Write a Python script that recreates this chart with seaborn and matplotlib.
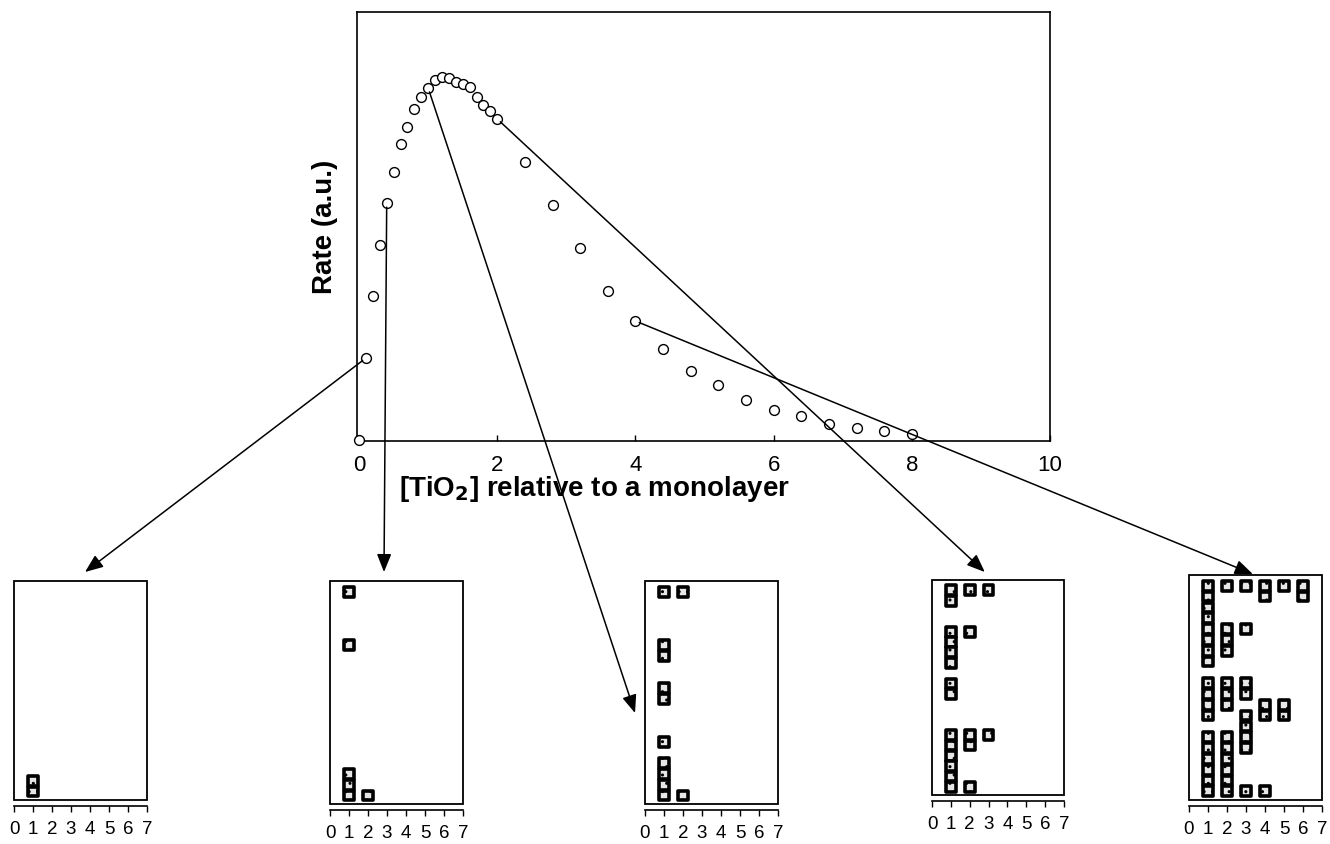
import numpy as np
import pandas as pd
import matplotlib
matplotlib.use("Agg")
import matplotlib.pyplot as plt
import seaborn as sns
from matplotlib.patches import ConnectionPatch, Rectangle

# ---------------- data ----------------
tio2 = [0.0, 0.1, 0.2, 0.3, 0.4, 0.5, 0.6, 0.7, 0.8, 0.9, 1.0, 1.1, 1.2, 1.3, 1.4,
        1.5, 1.6, 1.7, 1.8, 1.9, 2.0, 2.4, 2.8, 3.2, 3.6, 4.0, 4.4, 4.8, 5.2, 5.6,
        6.0, 6.4, 6.8, 7.2, 7.6, 8.0]
rate = [0.00, 0.82, 1.44, 1.95, 2.37, 2.68, 2.96, 3.13, 3.31, 3.43, 3.52, 3.60, 3.63,
        3.62, 3.58, 3.56, 3.53, 3.43, 3.35, 3.29, 3.21, 2.78, 2.35, 1.92, 1.49, 1.19,
        0.91, 0.69, 0.55, 0.40, 0.30, 0.24, 0.16, 0.12, 0.09, 0.06]
main_xticks = [0, 2, 4, 6, 8, 10]
arrow_from = [0.1, 0.4, 1.0, 2.0, 4.0]

# occupied rows (layer index) in each column of the small panels
panel1 = [[], [1, 0]]
panel2 = [[], [19, 14, 2, 1, 0], [0]]
panel3 = [[], [19, 14, 13, 10, 9, 5, 3, 2, 1, 0], [19, 0]]
panel4 = [[], [19, 18, 15, 14, 13, 12, 10, 9, 5, 4, 3, 2, 1, 0], [19, 15, 5, 4, 0], [19, 5]]
panel5 = [[], [19, 18, 17, 16, 15, 14, 13, 12, 10, 9, 8, 7, 5, 4, 3, 2, 1, 0],
          [19, 15, 14, 13, 10, 9, 8, 5, 4, 3, 2, 1, 0],
          [19, 15, 10, 9, 7, 6, 5, 4, 0],
          [19, 18, 8, 7, 0], [19, 8, 7], [19, 18]]
panel_xticks = [0, 1, 2, 3, 4, 5, 6, 7]

# ---------------- style ----------------
sns.set_theme(style="white")
plt.rcParams["font.family"] = ["Liberation Sans", "DejaVu Sans"]
plt.rcParams["hatch.color"] = "black"
plt.rcParams["hatch.linewidth"] = 1.0

W, H = 1330, 844
fig = plt.figure(figsize=(W / 100, H / 100), dpi=100)

def box(l, t, r, b):
    return [l / W, 1 - b / H, (r - l) / W, (b - t) / H]

# ---------------- main chart ----------------
ax = fig.add_axes(box(357, 12, 1050, 441))
df = pd.DataFrame({"tio2": tio2, "rate": rate})
sns.scatterplot(data=df, x="tio2", y="rate", ax=ax, marker="o", s=50,
                facecolor="white", edgecolor="black", linewidth=1.0, clip_on=False, zorder=3)
ax.set_xlim(-0.03, 10)
ax.set_ylim(-0.01, 4.28)
ax.set_xticks(main_xticks)
ax.set_xticklabels([str(v) for v in main_xticks])
ax.set_yticks([])
ax.tick_params(axis="x", direction="in", length=4, width=1, pad=10, bottom=True,
               colors="black", labelsize=16)
for sp in ax.spines.values():
    sp.set_color("black")
    sp.set_linewidth(1.2)
ax.set_xlabel("[TiO$_\\mathbf{2}$] relative to a monolayer", fontsize=20, fontweight="bold",
              color="black")
ax.xaxis.set_label_coords(0.343, -0.076)
ax.set_ylabel("Rate (a.u.)", fontsize=20, fontweight="bold", labelpad=14, color="black")

# ---------------- small panels ----------------
panel_boxes = [(14, 581, 147, 800), (330, 581, 463, 804), (645, 581, 778, 804),
               (932, 580, 1064, 795), (1189, 575, 1322, 800)]
panels = [panel1, panel2, panel3, panel4, panel5]
arrow_to = [(0.534, 1.041), (0.406, 1.04), (-0.075, 0.408), (0.40, 1.037), (0.48, 1.004)]

for (l, t, r, b), cols, src, dst in zip(panel_boxes, panels, arrow_from, arrow_to):
    pax = fig.add_axes(box(l, t, r, b))
    xs, ys = [], []
    for c, rows in enumerate(cols):
        for rw in rows:
            xs.append(c)
            ys.append(rw)
    pdf = pd.DataFrame({"col": xs, "row": ys})
    sns.scatterplot(data=pdf, x="col", y="row", ax=pax, marker="s", s=49,
                    facecolor="#e6e6e6", edgecolor="black", linewidth=2.6,
                    hatch="..", clip_on=False, zorder=3)
    for name, sp in pax.spines.items():
        sp.set_visible(name == "bottom")
        sp.set_color("black")
        sp.set_linewidth(1.2)
    pax.spines["bottom"].set_position(("outward", 4))
    pax.set_xlim(0, 7)
    pax.set_ylim(-0.8, 20.0)
    pax.set_xticks(panel_xticks)
    pax.set_xticklabels([str(v) for v in panel_xticks])
    pax.set_yticks([])
    pax.set_xlabel("")
    pax.set_ylabel("")
    pax.tick_params(axis="x", direction="out", length=4, width=1, pad=7, bottom=True,
                    colors="black", labelsize=13.5)
    pax.add_patch(Rectangle((0, 0), 1, 1, transform=pax.transAxes, fill=False,
                            edgecolor="black", linewidth=1.3, clip_on=False))

    i = tio2.index(src)
    con = ConnectionPatch(xyA=(tio2[i], rate[i]), coordsA=ax.transData,
                          xyB=dst, coordsB=pax.transAxes,
                          arrowstyle="-|>,head_length=0.55,head_width=0.22",
                          mutation_scale=20, shrinkA=3, shrinkB=0,
                          color="black", linewidth=1.1, zorder=5)
    fig.add_artist(con)

fig.savefig("out.png", dpi=100)
